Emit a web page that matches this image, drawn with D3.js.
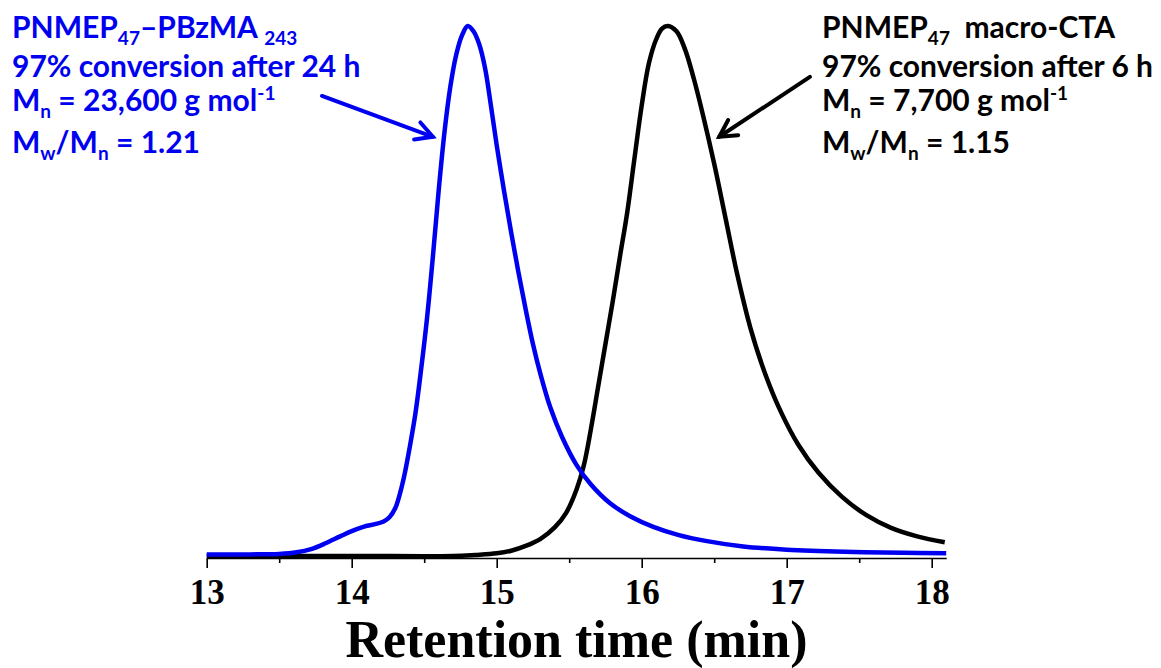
<!DOCTYPE html>
<html>
<head>
<meta charset="utf-8">
<script src="https://cdn.jsdelivr.net/npm/d3@7"></script>
<style>
  html, body { margin: 0; padding: 0; background: #fff; }
  svg { display: block; }
</style>
</head>
<body>
<svg id="chart" width="1161" height="668"></svg>
<script>
// ---- Data ----
const blueTime = [13.00, 13.30, 13.50, 13.62, 13.72, 13.82, 13.92, 14.00, 14.08, 14.16, 14.22, 14.26, 14.30, 14.33, 14.36, 14.40, 14.44, 14.48, 14.52, 14.56, 14.60, 14.64, 14.68, 14.72, 14.76, 14.80, 14.84, 14.88, 14.92, 14.96, 15.00, 15.05, 15.10, 15.15, 15.20, 15.25, 15.30, 15.37, 15.45, 15.55, 15.65, 15.78, 15.92, 16.08, 16.25, 16.45, 16.70, 17.00, 17.40, 17.80, 18.10];
const blueSignal = [0.003, 0.003, 0.004, 0.007, 0.013, 0.024, 0.037, 0.047, 0.055, 0.060, 0.065, 0.073, 0.090, 0.115, 0.148, 0.205, 0.270, 0.355, 0.450, 0.565, 0.690, 0.800, 0.885, 0.945, 0.982, 1.000, 0.990, 0.965, 0.920, 0.850, 0.775, 0.690, 0.610, 0.535, 0.465, 0.400, 0.345, 0.280, 0.225, 0.172, 0.135, 0.100, 0.075, 0.055, 0.040, 0.028, 0.018, 0.012, 0.008, 0.006, 0.005];

const blackTime = [13.00, 14.00, 14.70, 14.85, 15.00, 15.10, 15.20, 15.30, 15.40, 15.48, 15.55, 15.60, 15.65, 15.70, 15.75, 15.80, 15.85, 15.90, 15.95, 16.00, 16.05, 16.10, 16.14, 16.18, 16.24, 16.30, 16.36, 16.42, 16.50, 16.58, 16.66, 16.75, 16.85, 16.96, 17.08, 17.22, 17.38, 17.55, 17.72, 17.90, 18.09];
const blackSignal = [0.000, 0.000, 0.000, 0.002, 0.005, 0.010, 0.019, 0.032, 0.054, 0.082, 0.125, 0.170, 0.240, 0.320, 0.400, 0.480, 0.565, 0.648, 0.750, 0.850, 0.930, 0.975, 0.995, 1.000, 0.990, 0.955, 0.900, 0.835, 0.740, 0.635, 0.530, 0.430, 0.345, 0.272, 0.210, 0.157, 0.112, 0.077, 0.053, 0.037, 0.026];

const majorTicks = [13, 14, 15, 16, 17, 18];
const minorTicks = [13.5, 14.5, 15.5, 16.5, 17.5];
const xDomain = [13, 18.1];
const xTitle = "Retention time (min)";

// annotation arrows in data coordinates [time, signal]
const blueArrow = [[13.795, 0.868], [14.56, 0.791]];
const blackArrow = [[17.16, 0.904], [16.535, 0.791]];

// annotation text lines: [text, kind] where kind: n normal, sub, sup
const blueLabel = [
  [["PNMEP", "n"], ["47", "sub"], ["\u2013PBzMA ", "n"], ["243", "sub"]],
  [["97% conversion after 24 h", "n"]],
  [["M", "n"], ["n", "sub"], [" = 23,600 g mol", "n"], ["-1", "sup"]],
  [["M", "n"], ["w", "sub"], ["/M", "n"], ["n", "sub"], [" = 1.21", "n"]]
];
const blackLabel = [
  [["PNMEP", "n"], ["47", "sub"], ["  macro-CTA", "n"]],
  [["97% conversion after 6 h", "n"]],
  [["M", "n"], ["n", "sub"], [" = 7,700 g mol", "n"], ["-1", "sup"]],
  [["M", "n"], ["w", "sub"], ["/M", "n"], ["n", "sub"], [" = 1.15", "n"]]
];

// ---- Layout ----
const svg = d3.select("#chart");
const blue = "#0000f0";
const axisY = 558;

const x = d3.scaleLinear().domain(xDomain).range([206.7, 946.2]);
const y = d3.scaleLinear().domain([0, 1]).range([556, 26]);

const line = d3.line()
  .x(d => x(d[0]))
  .y(d => y(d[1]))
  .curve(d3.curveCatmullRom.alpha(0.5));

const blueData = blueTime.map((t, i) => [t, blueSignal[i]]);
const blackData = blackTime.map((t, i) => [t, blackSignal[i]]);

svg.append("path").datum(blackData)
  .attr("d", line).attr("fill", "none")
  .attr("stroke", "#000").attr("stroke-width", 4.5)
  .attr("stroke-linejoin", "round");

svg.append("path").datum(blueData)
  .attr("d", line).attr("fill", "none")
  .attr("stroke", blue).attr("stroke-width", 4.5)
  .attr("stroke-linejoin", "round");

// ---- Axis ----
const axisG = svg.append("g").attr("transform", `translate(0,${axisY})`);
const xAxis = d3.axisBottom(x).tickValues(majorTicks).tickFormat(d3.format("d"))
  .tickSize(10).tickSizeOuter(0).tickPadding(11);
axisG.call(xAxis);
axisG.select(".domain").attr("stroke", "#000").attr("stroke-width", 1.6);
axisG.selectAll(".tick line").attr("stroke", "#000").attr("stroke-width", 1.6);
axisG.selectAll(".tick text")
  .attr("fill", "#000")
  .style("font-family", "'Liberation Serif', 'Times New Roman', serif")
  .style("font-weight", "bold")
  .style("font-size", "35px");

const minorG = svg.append("g").attr("transform", `translate(0,${axisY})`);
minorG.call(d3.axisBottom(x).tickValues(minorTicks).tickFormat("").tickSize(5).tickSizeOuter(0));
minorG.select(".domain").remove();
minorG.selectAll(".tick line").attr("stroke", "#000").attr("stroke-width", 1.6);

svg.append("text")
  .attr("x", x((xDomain[0] + xDomain[1]) / 2))
  .attr("y", 657)
  .attr("text-anchor", "middle")
  .style("font-family", "'Liberation Serif', 'Times New Roman', serif")
  .style("font-weight", "bold")
  .style("font-size", "52px")
  .attr("fill", "#000")
  .text(xTitle);

// ---- Arrows ----
function drawArrow(pts, color) {
  const [p0, p1] = pts.map(p => [x(p[0]), y(p[1])]);
  svg.append("line")
    .attr("x1", p0[0]).attr("y1", p0[1])
    .attr("x2", p1[0]).attr("y2", p1[1])
    .attr("stroke", color).attr("stroke-width", 4).attr("stroke-linecap", "round");
  const ang = Math.atan2(p1[1] - p0[1], p1[0] - p0[0]);
  const L = 19, spread = 0.5;
  const head = [
    [p1[0] - L * Math.cos(ang - spread), p1[1] - L * Math.sin(ang - spread)],
    [p1[0], p1[1]],
    [p1[0] - L * Math.cos(ang + spread), p1[1] - L * Math.sin(ang + spread)]
  ];
  svg.append("path")
    .attr("d", d3.line()(head))
    .attr("fill", "none").attr("stroke", color).attr("stroke-width", 4)
    .attr("stroke-linecap", "round").attr("stroke-linejoin", "miter");
}
drawArrow(blueArrow, blue);
drawArrow(blackArrow, "#000");

// ---- Text annotations ----
function drawLabel(lines, x0, baselines, color) {
  const g = svg.append("g")
    .style("font-family", "Lato, 'Open Sans', sans-serif")
    .style("font-weight", "bold")
    .attr("fill", color);
  lines.forEach((parts, i) => {
    const t = g.append("text").attr("x", x0).attr("y", baselines[i])
      .style("font-size", "30px").attr("xml:space", "preserve");
    let shift = 0;
    parts.forEach(([txt, kind]) => {
      const target = kind === "sub" ? 7 : kind === "sup" ? -11 : 0;
      const ts = t.append("tspan").attr("dy", target - shift).text(txt);
      if (kind !== "n") ts.style("font-size", "19px");
      shift = target;
    });
  });
}
drawLabel(blueLabel, 12, [38, 77, 111, 153], blue);
drawLabel(blackLabel, 822, [38, 77, 111, 153], "#000");
</script>
</body>
</html>
